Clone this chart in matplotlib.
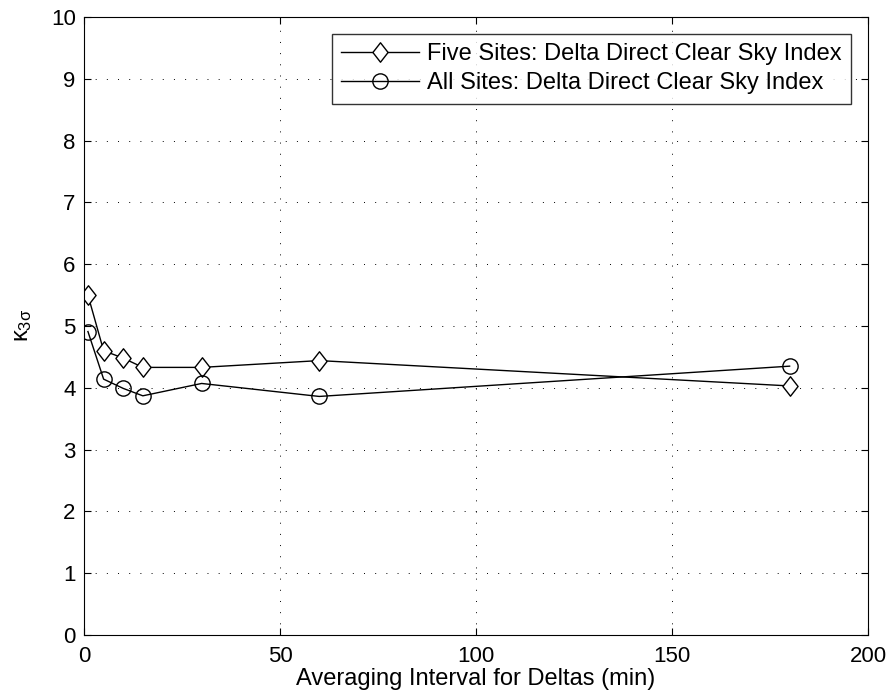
import numpy as np
import matplotlib
matplotlib.use('Agg')
import matplotlib.pyplot as plt
from matplotlib.path import Path

plt.rcParams['font.family'] = ['Liberation Sans', 'DejaVu Sans']
plt.rcParams['mathtext.fontset'] = 'custom'
plt.rcParams['mathtext.rm'] = 'Liberation Sans'
plt.rcParams['mathtext.it'] = 'Liberation Sans'

# averaging interval (min) and kappa values
intervals = [1, 5, 10, 15, 30, 60, 180]
five_sites = [5.50, 4.60, 4.48, 4.33, 4.33, 4.44, 4.03]
all_sites = [4.91, 4.14, 3.99, 3.87, 4.07, 3.86, 4.35]

labels = ['Five Sites: Delta Direct Clear Sky Index',
          'All Sites: Delta Direct Clear Sky Index']

# tall open diamond
diamond = Path([(0, 1), (0.78, 0), (0, -1), (-0.78, 0), (0, 1)],
               [Path.MOVETO, Path.LINETO, Path.LINETO, Path.LINETO, Path.CLOSEPOLY])

fig = plt.figure(figsize=(8.91, 7.0), dpi=100)
ax = fig.add_axes([0.0943, 0.0929, 0.8799, 0.8828])

ax.plot(intervals, five_sites, color='black', lw=1.0, marker=diamond,
        markersize=14, mfc='white', mec='black', mew=1.0, label=labels[0])
ax.plot(intervals, all_sites, color='black', lw=1.0, marker='o',
        markersize=11, mfc='none', mec='black', mew=1.0, label=labels[1])

ax.set_xlim(0, 200)
ax.set_ylim(0, 10)
ax.set_xticks(np.arange(0, 201, 50))
ax.set_yticks(np.arange(0, 11, 1))
ax.grid(True, color='black', linestyle=(0, (1, 10.5)), linewidth=0.7)
ax.tick_params(direction='in', top=True, right=True, labelsize=16, length=5, width=0.8)
ax.tick_params(axis='x', pad=8)
ax.tick_params(axis='y', pad=6)
for s in ax.spines.values():
    s.set_linewidth(0.8)

ax.set_xlabel('Averaging Interval for Deltas (min)', fontsize=17, labelpad=1)
ax.set_ylabel(r'$\kappa_{3\sigma}$', fontsize=17, labelpad=12)

leg = ax.legend(loc='upper right', fontsize=17, frameon=True, fancybox=False,
                edgecolor='black', handlelength=3.3, borderpad=0.4,
                labelspacing=0.3, handletextpad=0.35, borderaxespad=0.7)
leg.get_frame().set_linewidth(1.0)

fig.savefig('out.png', dpi=100)
